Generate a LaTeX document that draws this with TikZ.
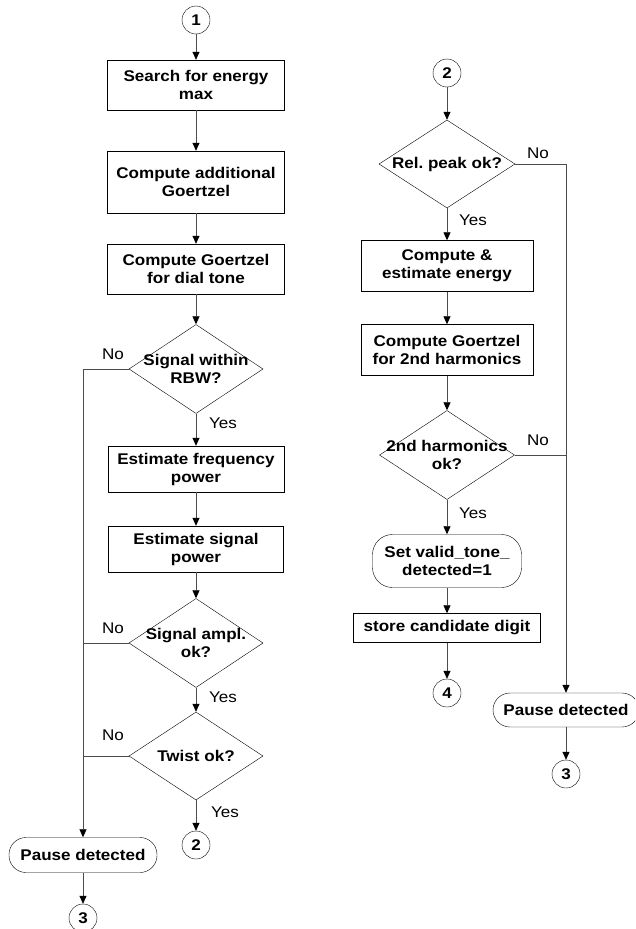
\documentclass[tikz,border=0pt]{standalone}
\usepackage{fontspec}
\setmainfont{Liberation Sans}[FakeStretch=1.1]
\usetikzlibrary{shapes.geometric,arrows.meta}

\begin{document}
\frenchspacing
\begin{tikzpicture}[x=1pt,y=-1pt,
  proc/.style={draw,rectangle,align=center,inner sep=0pt,
    font=\fontsize{15.5}{18}\selectfont\bfseries,minimum width=177,minimum height=50},
  term/.style={proc,rounded corners=17pt},
  dec/.style={draw,diamond,inner sep=0pt,minimum width=134,minimum height=89},
  dtext/.style={align=center,inner sep=0pt,font=\fontsize{15.5}{18}\selectfont\bfseries},
  conn/.style={draw,circle,inner sep=0pt,minimum size=28,font=\fontsize{15.5}{18}\selectfont\bfseries},
  lbl/.style={inner sep=0pt,font=\fontsize{15.5}{18}\selectfont},
  flow/.style={draw=black!70,line width=0.7pt,-{Triangle[length=8pt,width=7pt,black]}},
  plain/.style={draw=black!70,line width=0.7pt}]
  \clip (0,0) rectangle (635,929);

  %left column
  \node[conn] (c1) at (196,20) {1};
  \node[proc] (b1) at (196,85) {Search for energy\\max};
  \node[proc,minimum height=62] (b2) at (196,182) {Compute additional\\Goertzel};
  \node[proc] (b3) at (196,269) {Compute Goertzel\\for dial tone};
  \node[dec,label={[dtext]center:Signal within\\RBW?}] (d1) at (196,369) {};
  \node[proc,minimum width=176,minimum height=46] (b4) at (196,469) {Estimate frequency\\power};
  \node[proc,minimum width=175,minimum height=46] (b5) at (196,549) {Estimate signal\\power};
  \node[dec,label={[dtext]center:Signal ampl.\\ok?}] (d2) at (196,643) {};
  \node[dec,minimum height=88,label={[dtext]center:Twist ok?}] (d3) at (196,756) {};
  \node[conn] (c2a) at (196,845) {2};
  \node[term,minimum width=148,minimum height=35] (p1) at (83,855) {Pause detected};
  \node[conn] (c3a) at (83,918) {3};

  \draw[flow] (c1) -- (b1);
  \draw[flow] (b1) -- (b2);
  \draw[flow] (b2) -- (b3);
  \draw[flow] (b3) -- (d1);
  \draw[flow] (d1) -- (b4);
  \draw[flow] (b4) -- (b5);
  \draw[flow] (b5) -- (d2);
  \draw[flow] (d2) -- (d3);
  \draw[flow] (d3) -- (c2a);
  \draw[flow] (d1.west) -| (p1.north);
  \draw[plain] (d2.west) -- (d2.west -| p1.north);
  \draw[plain] (d3.west) -- (d3.west -| p1.north);
  \draw[flow] (p1) -- (c3a);

  \node[lbl] (no1) at (113,354) {No};
  \node[lbl] (no2) at (113,628) {No};
  \node[lbl] (no3) at (113,735) {No};
  \node[lbl] (yes1) at (223,423) {Yes};
  \node[lbl] (yes2) at (223,697) {Yes};
  \node[lbl] (yes3) at (225,812) {Yes};

  %right column
  \node[conn] (c2b) at (447,73) {2};
  \node[dec,minimum width=136,minimum height=88,label={[dtext]center:Rel. peak ok?}] (d4) at (447,164) {};
  \node[proc,minimum width=172,minimum height=51] (b6) at (447,266) {Compute \&\\estimate energy};
  \node[proc,minimum width=172,minimum height=51] (b7) at (447,350) {Compute Goertzel\\for 2nd harmonics};
  \node[dec,minimum width=135,label={[dtext]center:2nd harmonics\\ok?}] (d5) at (447,455) {};
  \node[term,minimum width=149,minimum height=53,rounded corners=20pt] (s1) at (447,561) {Set valid\_tone\_\\detected=1};
  \node[proc,minimum width=187,minimum height=29] (b8) at (447,628) {store candidate digit};
  \node[conn] (c4) at (447,693) {4};
  \node[term,minimum width=146,minimum height=34] (p2) at (566,710) {Pause detected};
  \node[conn] (c3b) at (566,774) {3};

  \draw[flow] (c2b) -- (d4);
  \draw[flow] (d4) -- (b6);
  \draw[flow] (b6) -- (b7);
  \draw[flow] (b7) -- (d5);
  \draw[flow] (d5) -- (s1);
  \draw[flow] (s1) -- (b8);
  \draw[flow] (b8) -- (c4);
  \draw[flow] (d4.east) -| (p2.north);
  \draw[plain] (d5.east) -- (d5.east -| p2.north);
  \draw[flow] (p2) -- (c3b);

  \node[lbl] (no4) at (538,153) {No};
  \node[lbl] (no5) at (538,440) {No};
  \node[lbl] (yes4) at (473,220) {Yes};
  \node[lbl] (yes5) at (473,513) {Yes};
\end{tikzpicture}
\end{document}
